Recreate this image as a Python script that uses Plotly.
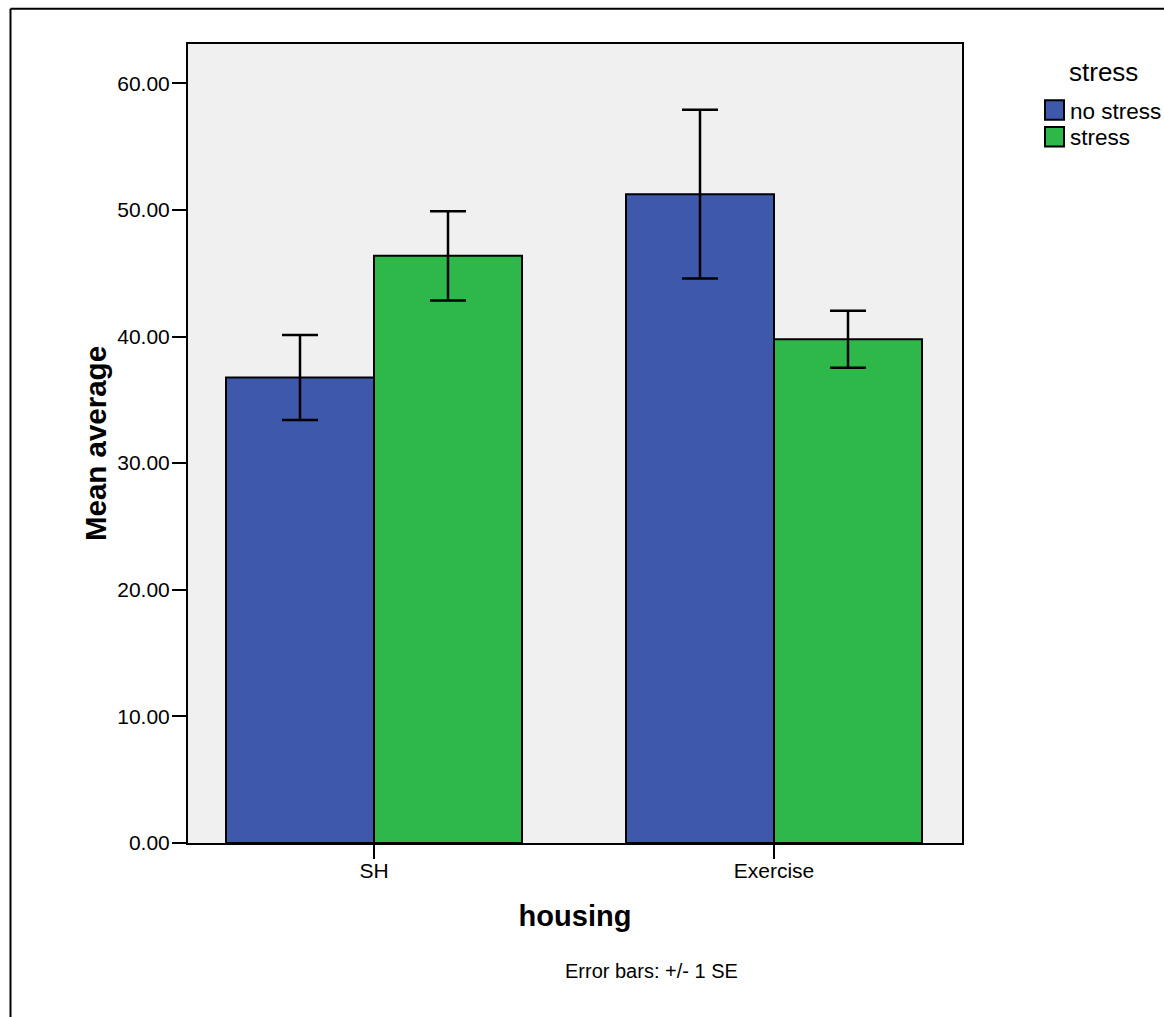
import plotly.graph_objects as go

# ---- data ----
categories = ["SH", "Exercise"]
series_names = ["no stress", "stress"]
no_stress_mean = [36.76, 51.24]
no_stress_se = [3.35, 6.66]
stress_mean = [46.37, 39.79]
stress_se = [3.53, 2.25]
y_ticks = [0, 10, 20, 30, 40, 50, 60]

colors = ["#3E58AC", "#2FB84A"]

W, H = 1164, 1017
L, R, T, B = 188, 962, 43.7, 843.3  # plot area in pixels


def px(x):
    return (x - L) / (R - L)


def py(y):
    return (B - y) / (B - T)


FONT = "Liberation Sans, Arial, sans-serif"

fig = go.Figure()
for name, mean, se, col in [
    (series_names[0], no_stress_mean, no_stress_se, colors[0]),
    (series_names[1], stress_mean, stress_se, colors[1]),
]:
    fig.add_trace(go.Bar(
        name=name, x=categories, y=mean,
        marker=dict(color=col, line=dict(color="black", width=2)),
        error_y=dict(type="data", array=se, visible=True, color="black",
                     thickness=2.5, width=18),
        showlegend=False,
    ))

fig.update_layout(
    width=W, height=H,
    margin=dict(l=L, r=W - R, t=T, b=H - B, pad=0),
    barmode="group", bargap=0.26, bargroupgap=0,
    plot_bgcolor="#F0F0F0", paper_bgcolor="white",
    font=dict(family=FONT, color="black", size=21),
    showlegend=False,
    xaxis=dict(
        range=[-0.465, 1.47], showline=True, linecolor="black", linewidth=2,
        mirror=True, ticks="outside", ticklen=14, tickwidth=2, tickcolor="black",
        tickfont=dict(size=21), ticklabelstandoff=-6,
        title=dict(text="<b>housing</b>", font=dict(size=29), standoff=24),
        showgrid=False, zeroline=False,
    ),
    yaxis=dict(
        range=[0, 63.1], showline=True, linecolor="black", linewidth=2,
        mirror=True, ticks="outside", ticklen=14, tickwidth=2, tickcolor="black",
        tickvals=y_ticks, tickformat=".2f", tickfont=dict(size=21),
        ticklabelstandoff=-2,
        title=dict(text="<b>Mean average</b>", font=dict(size=29.5), standoff=2),
        showgrid=False, zeroline=False,
    ),
)

# custom legend (SPSS style)
fig.add_annotation(text="stress", x=px(1103), y=py(72), xref="paper", yref="paper",
                   showarrow=False, xanchor="center", yanchor="middle",
                   font=dict(size=26, family=FONT))
sw_top = [100, 126.7]
for i, name in enumerate(series_names):
    fig.add_shape(type="rect", xref="paper", yref="paper",
                  x0=px(1045), x1=px(1064), y0=py(sw_top[i]), y1=py(sw_top[i] + 19.5),
                  fillcolor=colors[i], line=dict(color="black", width=2))
    fig.add_annotation(text=name, x=px(1068), y=py(sw_top[i] + 11), xref="paper",
                       yref="paper", showarrow=False, xanchor="left", yanchor="middle",
                       font=dict(size=22.5, family=FONT))

fig.add_annotation(text="Error bars: +/- 1 SE", x=px(651), y=py(971), xref="paper",
                   yref="paper", showarrow=False, xanchor="center", yanchor="middle",
                   font=dict(size=20, family=FONT))

# outer frame lines (left and top)
fig.add_shape(type="line", xref="paper", yref="paper", x0=px(10.5), x1=px(10.5),
              y0=py(8.5), y1=py(H + 5), line=dict(color="black", width=2))
fig.add_shape(type="line", xref="paper", yref="paper", x0=px(10.5), x1=px(W + 5),
              y0=py(8.5), y1=py(8.5), line=dict(color="black", width=2))

fig.write_html(
    "out.html",
    config={"displayModeBar": False},
    post_script="document.body.style.margin='0';document.body.style.overflow='hidden';",
)
